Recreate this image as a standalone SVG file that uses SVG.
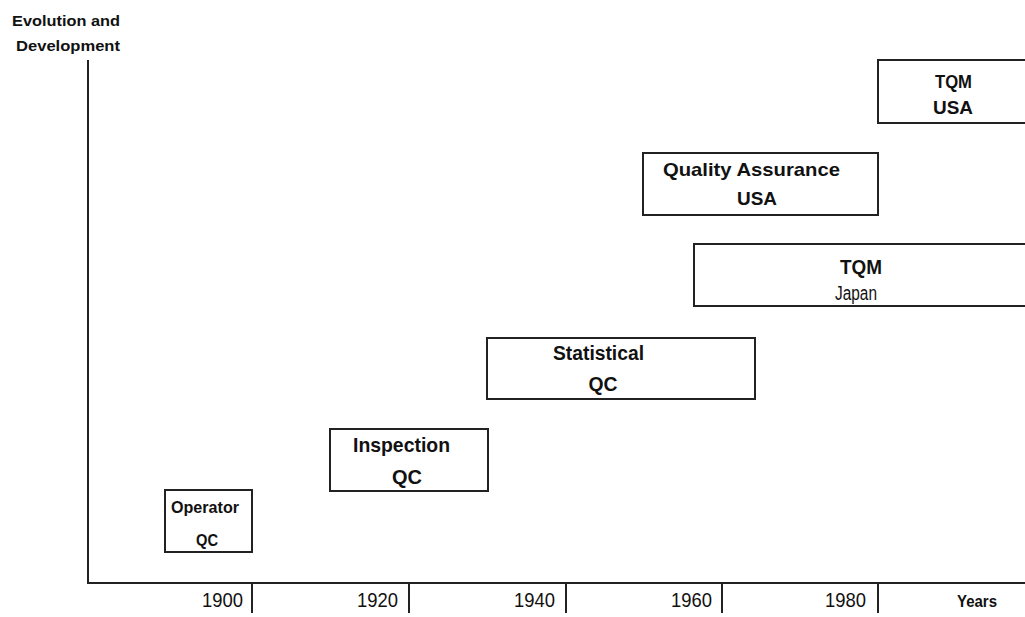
<svg xmlns="http://www.w3.org/2000/svg" width="1025" height="617" viewBox="0 0 1025 617">
<style>
text{font-family:"Liberation Sans",Arial,sans-serif;fill:#111}
.b{font-weight:bold}
.box{fill:#fff;stroke:#222;stroke-width:2}
.ax{stroke:#222;stroke-width:2;fill:none}
.yr{font-size:21px;text-anchor:end}
.c{text-anchor:middle}
</style>
<rect width="1025" height="617" fill="#fff"/>
<g id="title">
<text class="b" x="12" y="26" font-size="15.5" textLength="108" lengthAdjust="spacingAndGlyphs">Evolution and</text>
<text class="b" x="16" y="51" font-size="15.5" textLength="104" lengthAdjust="spacingAndGlyphs">Development</text>
</g>
<g id="axes">
<path class="ax" d="M88 60V583H1025"/>
<path class="ax" d="M252 583V613M409 583V613M566 583V613M722 583V613M878 583V613"/>
<text class="yr" x="243" y="607" textLength="41" lengthAdjust="spacingAndGlyphs">1900</text>
<text class="yr" x="398" y="607" textLength="41" lengthAdjust="spacingAndGlyphs">1920</text>
<text class="yr" x="555" y="607" textLength="41" lengthAdjust="spacingAndGlyphs">1940</text>
<text class="yr" x="712" y="607" textLength="41" lengthAdjust="spacingAndGlyphs">1960</text>
<text class="yr" x="866" y="607" textLength="41" lengthAdjust="spacingAndGlyphs">1980</text>
<text class="b" x="957" y="607" font-size="16" textLength="40" lengthAdjust="spacingAndGlyphs">Years</text>
</g>
<g id="operator-qc">
<rect class="box" x="165" y="490" width="87" height="62"/>
<text class="b" x="171" y="513" font-size="16.5" textLength="68" lengthAdjust="spacingAndGlyphs">Operator</text>
<text class="b" x="196" y="546" font-size="16" textLength="22" lengthAdjust="spacingAndGlyphs">QC</text>
</g>
<g id="inspection-qc">
<rect class="box" x="330" y="429" width="158" height="62"/>
<text class="b" x="353" y="452" font-size="20.5" textLength="97" lengthAdjust="spacingAndGlyphs">Inspection</text>
<text class="b c" x="407" y="484" font-size="20.5" textLength="30" lengthAdjust="spacingAndGlyphs">QC</text>
</g>
<g id="statistical-qc">
<rect class="box" x="487" y="338" width="268" height="61"/>
<text class="b" x="553" y="360" font-size="20" textLength="91" lengthAdjust="spacingAndGlyphs">Statistical</text>
<text class="b c" x="603" y="391" font-size="20" textLength="29" lengthAdjust="spacingAndGlyphs">QC</text>
</g>
<g id="quality-assurance-usa">
<rect class="box" x="643" y="153" width="235" height="62"/>
<text class="b" x="663" y="176" font-size="19" textLength="177" lengthAdjust="spacingAndGlyphs">Quality Assurance</text>
<text class="b c" x="757" y="205" font-size="19" textLength="40" lengthAdjust="spacingAndGlyphs">USA</text>
</g>
<g id="tqm-japan">
<rect class="box" x="694" y="244" width="340" height="62"/>
<text class="b" x="840" y="274" font-size="20" textLength="42" lengthAdjust="spacingAndGlyphs">TQM</text>
<text x="835" y="300" font-size="20" textLength="42" lengthAdjust="spacingAndGlyphs">Japan</text>
</g>
<g id="tqm-usa">
<rect class="box" x="878" y="60" width="160" height="63"/>
<text class="b" x="935" y="88" font-size="19" textLength="37" lengthAdjust="spacingAndGlyphs">TQM</text>
<text class="b" x="933" y="114" font-size="19" textLength="40" lengthAdjust="spacingAndGlyphs">USA</text>
</g>
</svg>
